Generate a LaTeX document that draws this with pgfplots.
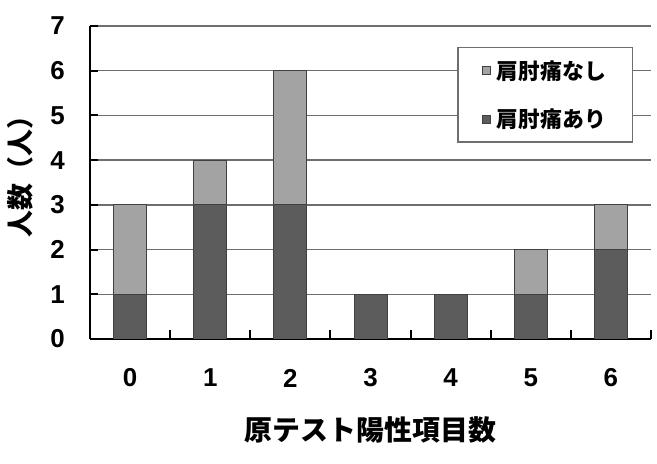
\documentclass[border=0pt]{standalone}
\usepackage{fontspec}
\setmainfont{Liberation Sans}
\newfontfamily\jp{Noto Sans CJK JP}
\usepackage{pgfplots}
\pgfplotsset{compat=1.18}

\definecolor{ari}{HTML}{5C5C5C}
\definecolor{nashi}{HTML}{A3A3A3}
\definecolor{gridc}{HTML}{6E6E6E}

\begin{document}
\begin{tikzpicture}
\path[use as bounding box] (0,0) rectangle (657bp,464bp);
\begin{axis}[
    at={(90bp,125bp)}, anchor=south west,
    scale only axis,
    width=561bp, height=313bp,
    ybar stacked,
    bar width=33bp,
    xmin=-0.5, xmax=6.5,
    ymin=0, ymax=7,
    axis lines=left,
    axis line style={-, line width=2.6bp, black},
    xtick={0,...,6},
    xticklabels={0,1,2,3,4,5,6},
    major x tick style={draw=none},
    minor xtick={0.5,1.5,...,6.5},
    minor x tick style={line width=2bp, black},
    minor tick length=9bp,
    ytick={0,...,7},
    major y tick style={line width=2bp, black},
    major tick length=8bp,
    tick align=inside,
    ymajorgrids,
    grid style={gridc, line width=1.4bp},
    /pgf/number format/assume math mode=true,
    tick label style={font=\fontsize{26}{26}\selectfont\bfseries},
    xticklabel style={anchor=center, yshift=-39bp, inner sep=0pt},
    yticklabel style={anchor=east, inner sep=0pt, xshift=-25bp},
    xlabel={\jp\bfseries 原テスト陽性項目数},
    xlabel style={at={(axis description cs:0.5,-0.291)}, anchor=center,
        font=\fontsize{28}{28}\selectfont},
    ylabel={\jp\bfseries 人数（人）},
    ylabel style={at={(axis description cs:-0.125,0.54)}, anchor=center,
        font=\fontsize{27}{27}\selectfont},
    reverse legend,
    legend style={at={(0.968,0.933)}, anchor=north east,
        draw=gridc, line width=1.4bp, fill=white,
        font=\jp\bfseries\fontsize{22}{22}\selectfont,
        row sep=24bp, column sep=4bp, inner xsep=24bp, inner ysep=11bp,
        cells={anchor=west}},
    legend image code/.code={
        \draw[#1, line width=0.6bp] (0bp,-4bp) rectangle (8bp,4bp);},
]
% 肩肘痛あり
\addplot[fill=ari, draw=black!75, line width=0.8bp] coordinates {
    (0,1) (1,3) (2,3) (3,1) (4,1) (5,1) (6,2)};
\addlegendentry{肩肘痛あり}
% 肩肘痛なし
\addplot[fill=nashi, draw=black!75, line width=0.8bp] coordinates {
    (0,2) (1,1) (2,3) (3,0) (4,0) (5,1) (6,1)};
\addlegendentry{肩肘痛なし}
\end{axis}
\end{tikzpicture}
\end{document}
